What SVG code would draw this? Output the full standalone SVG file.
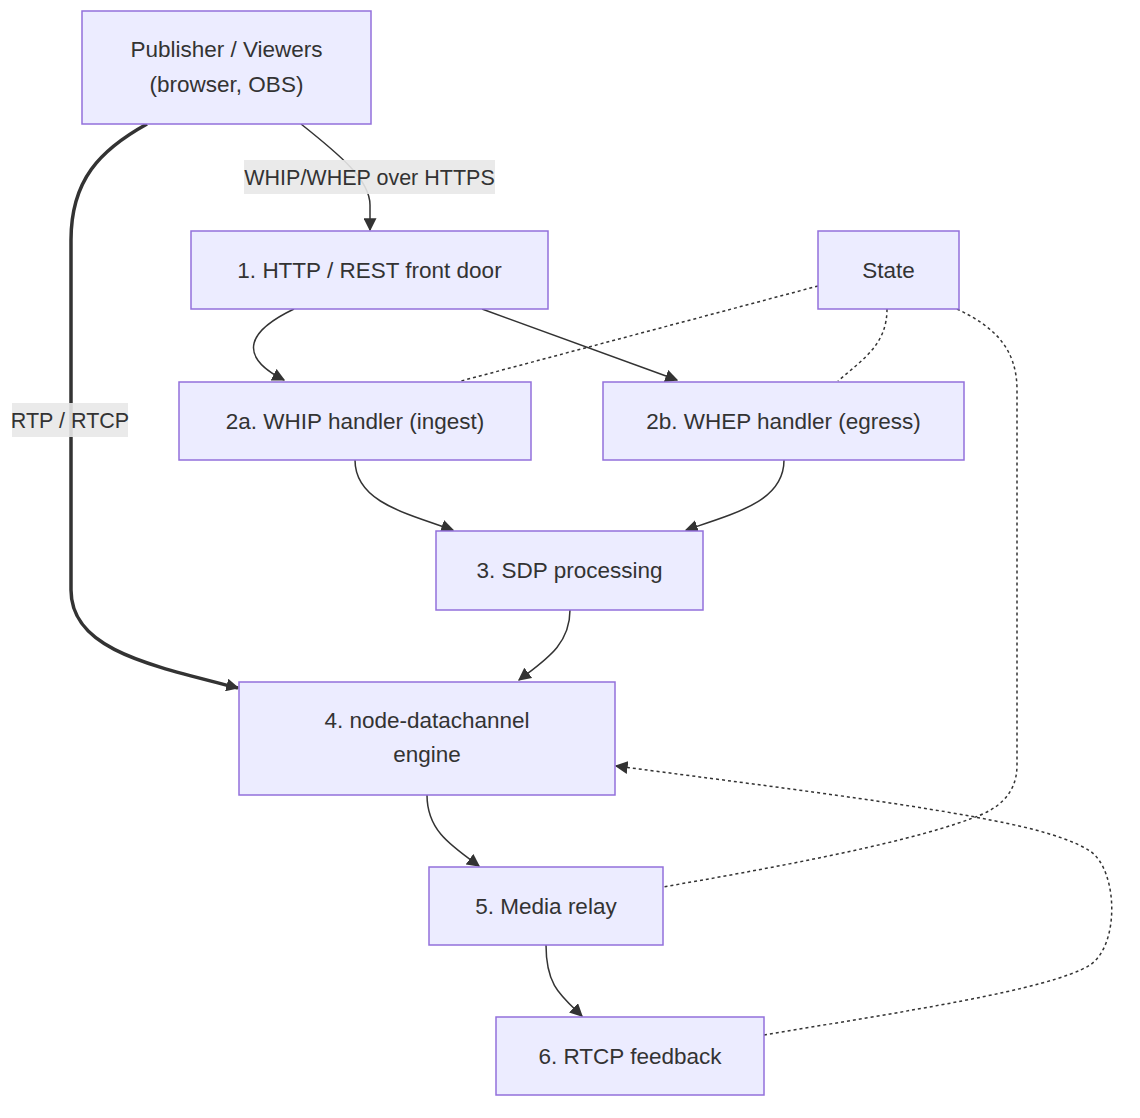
<svg xmlns="http://www.w3.org/2000/svg" width="1140" height="1118" viewBox="0 0 1140 1118">
<style>
.node rect{fill:#ECECFF;stroke:#9370DB;stroke-width:1.5}
.node text,.lbl text{font-family:"Liberation Sans",Arial,sans-serif;font-size:22.5px;fill:#333;text-anchor:middle}
.lbl text{font-size:21.5px}
.e{fill:none;stroke:#333;stroke-width:1.5}
.thick{stroke-width:3.5}
.dot{stroke-dasharray:3 3}
.lbl rect{fill:#e8e8e8;opacity:0.9}
</style>
<defs>
<marker id="arr" viewBox="0 0 10 10" refX="9" refY="5" markerUnits="userSpaceOnUse" markerWidth="13" markerHeight="13" orient="auto">
<path d="M0,0 L10,5 L0,10 z" fill="#333"/>
</marker>
</defs>
<rect width="1140" height="1118" fill="#fff"/>
<g id="connectors">
<path class="e" d="M301,124 C340,155 370,180 370,205 L370,230" marker-end="url(#arr)"/>
<path class="e thick" d="M147,124 C100,150 71,180 71,240 L71,590 C71,650 150,665 238,688" marker-end="url(#arr)"/>
<path class="e" d="M294,309 C250,330 235,355 284,380" marker-end="url(#arr)"/>
<path class="e" d="M482,309 L677,380" marker-end="url(#arr)"/>
<path class="e dot" d="M818,286 L461,381"/>
<path class="e dot" d="M887,309 C887,345 862,360 838,381"/>
<path class="e dot" d="M957,309 C990,325 1017,345 1017,390 L1017,765 C1017,800 990,812 970,819 C900,845 760,870 663,887"/>
<path class="e" d="M355,460 C355,500 400,512 453,530" marker-end="url(#arr)"/>
<path class="e" d="M784,460 C784,500 740,512 686,530" marker-end="url(#arr)"/>
<path class="e" d="M570,610 C570,645 545,660 519,680" marker-end="url(#arr)"/>
<path class="e" d="M427,795 C427,830 450,845 479,866" marker-end="url(#arr)"/>
<path class="e" d="M546,945 C546,985 560,995 582,1016" marker-end="url(#arr)"/>
<path class="e dot" d="M764,1035 C900,1012 1050,990 1090,965 C1120,945 1118,870 1090,851 C1060,832 1000,822 975,817 C900,803 800,790 616,766" marker-end="url(#arr)"/>
</g>
<g class="lbl" id="label-https">
<rect x="244" y="160" width="251" height="34"/>
<text x="369.5" y="184.5">WHIP/WHEP over HTTPS</text>
</g>
<g class="lbl" id="label-rtp">
<rect x="12" y="403" width="116" height="34"/>
<text x="70" y="427.5">RTP / RTCP</text>
</g>
<g class="node" id="publisher">
<rect x="82" y="11" width="289" height="113"/>
<text x="226.5" y="57">Publisher / Viewers</text>
<text x="226.5" y="92">(browser, OBS)</text>
</g>
<g class="node" id="front-door">
<rect x="191" y="231" width="357" height="78"/>
<text x="369.5" y="278">1. HTTP / REST front door</text>
</g>
<g class="node" id="state">
<rect x="818" y="231" width="141" height="78"/>
<text x="888.5" y="278">State</text>
</g>
<g class="node" id="whip">
<rect x="179" y="382" width="352" height="78"/>
<text x="355" y="429">2a. WHIP handler (ingest)</text>
</g>
<g class="node" id="whep">
<rect x="603" y="382" width="361" height="78"/>
<text x="783.5" y="429">2b. WHEP handler (egress)</text>
</g>
<g class="node" id="sdp">
<rect x="436" y="531" width="267" height="79"/>
<text x="569.5" y="578">3. SDP processing</text>
</g>
<g class="node" id="engine">
<rect x="239" y="682" width="376" height="113"/>
<text x="427" y="728">4. node-datachannel</text>
<text x="427" y="762">engine</text>
</g>
<g class="node" id="relay">
<rect x="429" y="867" width="234" height="78"/>
<text x="546" y="914">5. Media relay</text>
</g>
<g class="node" id="rtcp">
<rect x="496" y="1017" width="268" height="78"/>
<text x="630" y="1064">6. RTCP feedback</text>
</g>
</svg>
